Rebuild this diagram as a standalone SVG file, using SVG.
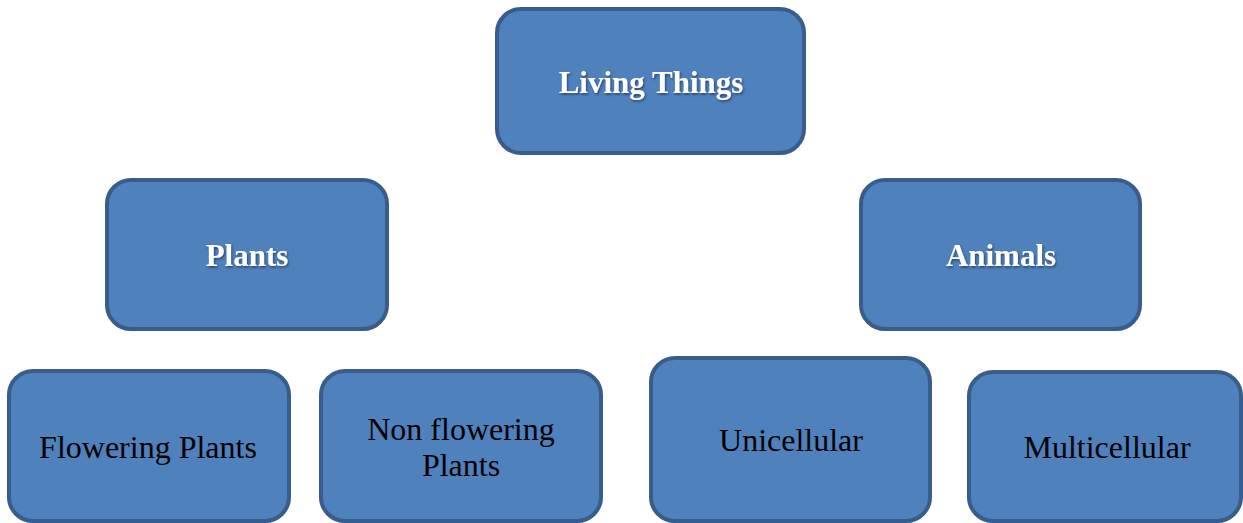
<svg xmlns="http://www.w3.org/2000/svg" width="1243" height="523" viewBox="0 0 1243 523">
  <defs>
    <filter id="shadow" x="-10%" y="-30%" width="120%" height="160%">
      <feDropShadow dx="1" dy="1.5" stdDeviation="1" flood-color="#1a2f4d" flood-opacity="0.75"/>
    </filter>
  </defs>
  <style>
    .box { fill: #4F81BD; stroke: #385D8A; stroke-width: 4; }
    .head { font-family: "Liberation Serif", "Times New Roman", serif; font-size: 31px; font-weight: bold; fill: #FFFFFF; text-anchor: middle; filter: url(#shadow); }
    .leaf { font-family: "Liberation Serif", "Times New Roman", serif; font-size: 32px; fill: #000000; text-anchor: middle; }
  </style>
  <rect width="1243" height="523" fill="#FFFFFF"/>
  <g id="connectors"></g>
  <g id="living-things">
    <rect class="box" x="497" y="9" width="307" height="144" rx="24" ry="24"/>
    <text class="head" x="651" y="93">Living Things</text>
  </g>
  <g id="plants">
    <rect class="box" x="107" y="180" width="280" height="149" rx="24" ry="24"/>
    <text class="head" x="247" y="266">Plants</text>
  </g>
  <g id="animals">
    <rect class="box" x="861" y="180" width="279" height="149" rx="24" ry="24"/>
    <text class="head" x="1001" y="266">Animals</text>
  </g>
  <g id="flowering-plants">
    <rect class="box" x="9" y="371" width="280" height="150" rx="24" ry="24"/>
    <text class="leaf" x="148" y="458">Flowering Plants</text>
  </g>
  <g id="non-flowering-plants">
    <rect class="box" x="321" y="371" width="280" height="150" rx="24" ry="24"/>
    <text class="leaf" x="461" y="440">Non flowering</text>
    <text class="leaf" x="461" y="476">Plants</text>
  </g>
  <g id="unicellular">
    <rect class="box" x="651" y="358" width="279" height="163" rx="24" ry="24"/>
    <text class="leaf" x="791" y="451">Unicellular</text>
  </g>
  <g id="multicellular">
    <rect class="box" x="969" y="372" width="272" height="149" rx="24" ry="24"/>
    <text class="leaf" x="1107" y="458">Multicellular</text>
  </g>
</svg>
